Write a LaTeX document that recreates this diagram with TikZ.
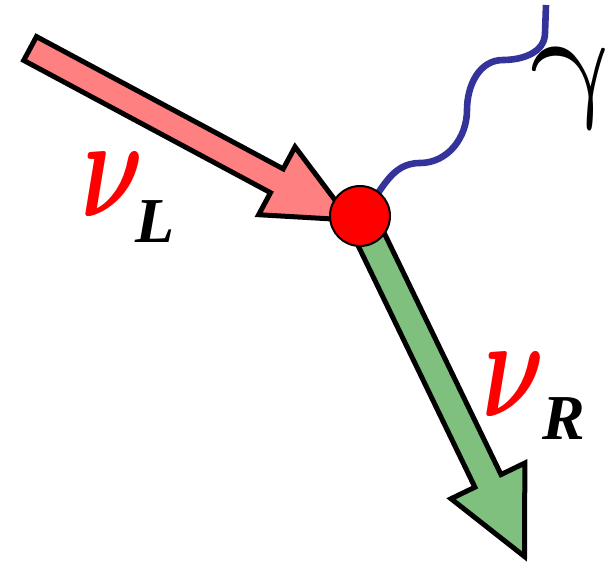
\documentclass[tikz,border=0pt]{standalone}
\usepackage{amsmath}
\usepackage{fontspec}
\setmainfont{Liberation Serif}
\usepackage{tikz}
\usetikzlibrary{positioning}
\definecolor{nured}{RGB}{255, 0, 0}
\definecolor{leftpink}{RGB}{255, 128, 128}
\definecolor{rightgreen}{RGB}{127, 192, 127}
\definecolor{photonblue}{RGB}{51, 51, 153}

\begin{document}
\begin{tikzpicture}[
          x=0.5pt, y=0.5pt,
          blockarr/.style={draw=black, line width=2.5pt, line join=miter},
          vertex/.style={circle, draw=black, line width=1pt, fill=nured,
                         minimum size=30pt, inner sep=0pt},
          photon/.style={draw=photonblue, line width=3.3pt},
          nu/.style={inner sep=0pt, text=nured, xscale=4.8, yscale=7.2, transform shape},
          sub/.style={inner sep=0pt, font=\fontsize{32}{32}\selectfont\bfseries\itshape},
          lbl/.style={inner sep=0pt, xscale=7.4, yscale=6.4, xslant=-0.2, transform shape},
        ]
  \useasboundingbox (0,0) rectangle (610,-563);
  \coordinate (v)    at (360,-216);
  \coordinate (tipL) at (350,-220);
  \coordinate (tipR) at (524.5,-556.5);
  % incoming left-handed neutrino
  \begin{scope}[shift={(tipL)}, rotate=-28.2]
    \draw[blockarr, fill=leftpink] (0,0) -- (-83,38.5) -- (-83,13.5) -- (-363,13.5)
      -- (-363,-13.5) -- (-83,-13.5) -- (-83,-38.5) -- cycle;
  \end{scope}
  % outgoing right-handed neutrino
  \begin{scope}[shift={(tipR)}, rotate=-64.2]
    \draw[blockarr, fill=rightgreen] (0,0) -- (-84,41) -- (-84,14.5) -- (-378,14.5)
      -- (-378,-14.5) -- (-84,-14.5) -- (-84,-41) -- cycle;
  \end{scope}
  % photon
  \draw[photon] (v) to[out=45, in=180] (420,-163) to[out=0, in=-90] (467,-110)
    to[out=90, in=180] (503,-60) to[out=0, in=-90] (545,-33) -- (546,-5);
  \node[vertex] (vtx) at (v) {};
  \node[nu]  (nuL)   at (112,-184) {$\boldsymbol{\nu}$};
  \node[sub] (subL)  at (155,-222) {L};
  \node[nu]  (nuR)   at (513,-384) {$\boldsymbol{\nu}$};
  \node[sub] (subR)  at (564,-419) {R};
  \node[lbl] (gamma) at (576,-88)  {$\gamma$};
\end{tikzpicture}
\end{document}
